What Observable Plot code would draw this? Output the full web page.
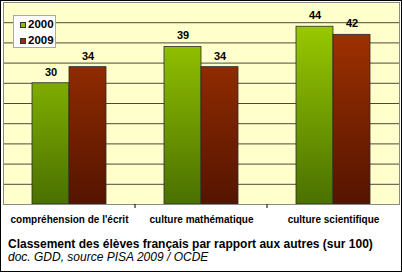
<!DOCTYPE html>
<html>
<head>
<meta charset="utf-8">
<script src="https://cdn.jsdelivr.net/npm/d3@7"></script>
<script src="https://cdn.jsdelivr.net/npm/@observablehq/plot@0.6"></script>
<style>
  html, body { margin: 0; padding: 0; background: #fff; }
  #wrap { position: relative; width: 402px; height: 272px; overflow: hidden; font-family: Arial, "Liberation Sans", sans-serif; }
  #border { position: absolute; left: 0; top: 0; width: 402px; height: 272px; box-sizing: border-box; border: 1px solid #000; pointer-events: none; }
  #legend { position: absolute; left: 13px; top: 15px; width: 43px; height: 33px; box-sizing: border-box; background: #fff; border: 1px solid #a8a8a8; }
  .sw { position: absolute; left: 6px; width: 6px; height: 6px; box-sizing: border-box; border: 1px solid #333; }
  .lt { position: absolute; left: 14px; font-size: 11.5px; font-weight: bold; line-height: 13px; color: #000; }
  #title { position: absolute; left: 8px; top: 237px; font-size: 12px; font-weight: bold; line-height: 14px; white-space: nowrap; color: #000; }
  #caption { position: absolute; left: 8px; top: 250px; font-size: 12px; font-style: italic; line-height: 14px; white-space: nowrap; color: #000; }
</style>
</head>
<body>
<div id="wrap">
  <div id="chart"></div>
  <div id="legend"></div>
  <div id="title"></div>
  <div id="caption"></div>
  <div id="border"></div>
</div>
<script>
const categories = ["compréhension de l'écrit", "culture mathématique", "culture scientifique"];
const years = ["2000", "2009"];
const values2000 = [30, 39, 44];
const values2009 = [34, 34, 42];
const yTicks = [5, 10, 15, 20, 25, 30, 35, 40, 45];
const titleText = "Classement des élèves français par rapport aux autres (sur 100)";
const captionText = "doc. GDD, source PISA 2009 / OCDE";

const rows2000 = categories.map((c, i) => ({category: c, year: years[0], value: values2000[i]}));
const rows2009 = categories.map((c, i) => ({category: c, year: years[1], value: values2009[i]}));
const rows = rows2000.concat(rows2009);

const chart = Plot.plot({
  width: 402,
  height: 228,
  marginTop: 2,
  marginBottom: 24,
  marginLeft: 2,
  marginRight: 2,
  style: {background: "transparent", fontFamily: "Arial, 'Liberation Sans', sans-serif", color: "#000"},
  fx: {domain: categories, padding: 0, label: null},
  x: {domain: years, paddingInner: 0, paddingOuter: 0.77, axis: null},
  y: {domain: [0, 50], axis: null},
  marks: [
    Plot.frame({fill: "#FFFFCC", facet: "super"}),
    Plot.ruleY(yTicks, {stroke: "#4a4a3c", strokeWidth: 1}),
    Plot.barY(rows2000, {fx: "category", x: "year", y: "value", fill: "url(#g2000)", stroke: "#2b2b2b", strokeWidth: 0.8}),
    Plot.barY(rows2009, {fx: "category", x: "year", y: "value", fill: "url(#g2009)", stroke: "#2b2b2b", strokeWidth: 0.8}),
    Plot.text(rows, {fx: "category", x: "year", y: "value", text: d => String(d.value), dy: -11, fontSize: 11, fontWeight: "bold", fill: "#000"}),
    Plot.axisFx({anchor: "bottom", tickSize: 0, tickPadding: 11, fontSize: 10, fontWeight: "bold", label: null}),
    Plot.ruleY([0], {stroke: "#000", strokeWidth: 1}),
    Plot.frame({stroke: "#8a8a8a", facet: "super"})
  ]
});
document.getElementById("chart").appendChild(chart);

// gradients spanning the plot area, using the y scale
const ys = chart.scale("y");
const fxs = chart.scale("fx");
const svg = d3.select(chart);
const defs = svg.insert("defs", ":first-child");
function grad(id, top, bottom) {
  const g = defs.append("linearGradient").attr("id", id)
    .attr("gradientUnits", "userSpaceOnUse")
    .attr("x1", 0).attr("x2", 0)
    .attr("y1", ys.apply(50)).attr("y2", ys.apply(0));
  g.append("stop").attr("offset", "0%").attr("stop-color", top);
  g.append("stop").attr("offset", "100%").attr("stop-color", bottom);
}
grad("g2000", "#a3d400", "#4a7000");
grad("g2009", "#ab3600", "#541400");

// small tick marks at category boundaries below the baseline
svg.append("g").selectAll("line").data(categories.slice(1)).join("line")
  .attr("x1", d => fxs.apply(d)).attr("x2", d => fxs.apply(d))
  .attr("y1", ys.apply(0)).attr("y2", ys.apply(0) + 4)
  .attr("stroke", "#000");

// legend
const legend = document.getElementById("legend");
const swatchColors = ["#8cbf00", "#9a2c00"];
years.forEach((y, i) => {
  const sw = document.createElement("div");
  sw.className = "sw";
  sw.style.top = (6 + i * 16) + "px";
  sw.style.background = swatchColors[i];
  legend.appendChild(sw);
  const t = document.createElement("div");
  t.className = "lt";
  t.style.top = (2 + i * 16) + "px";
  t.textContent = y;
  legend.appendChild(t);
});
document.getElementById("title").textContent = titleText;
document.getElementById("caption").textContent = captionText;
</script>
</body>
</html>
